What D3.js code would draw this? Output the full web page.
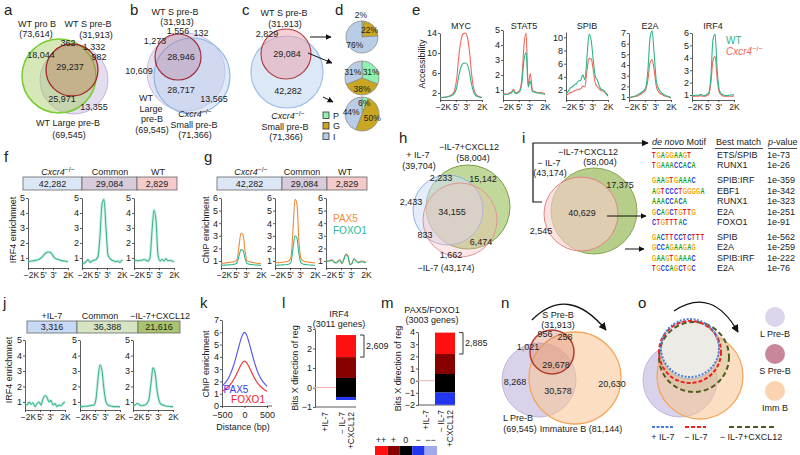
<!DOCTYPE html>
<html><head><meta charset="utf-8">
<script src="https://cdn.jsdelivr.net/npm/d3@7"></script>
<style>body{margin:0;background:#fff}</style>
</head><body>
<svg id="c" width="800" height="455"></svg>
<script>
// ---------------- DATA ----------------
// a: Venn (WT pro B / WT S pre-B / WT Large pre-B)
const vennASets = ["WT pro B","WT S pre-B","WT Large pre-B"];
const vennATotals = ["(73,614)","(31,913)","(69,545)"];
const vennACounts = ["18,044","362","1,332","982","29,237","25,971","13,355"];
// b
const vennBSets = ["WT S pre-B","WT Large pre-B","Small pre-B"];
const vennBTotals = ["(31,913)","(69,545)","(71,366)"];
const vennBCounts = ["1,556","132","1,273","28,946","10,609","28,717","13,565"];
// c
const vennCTotals = ["(31,913)","(71,366)"];
const vennCCounts = ["2,829","29,084","42,282"];
// d pies (P, G, I)
const pieCats = ["P","G","I"];
const pieTop = [2,22,76];
const pieMid = [31,38,31];
const pieBot = [6,50,44];
// e accessibility profiles
const profX = [-2000,-1800,-1600,-1400,-1200,-1000,-800,-600,-400,-200,0,200,400,600,800,1000,1200,1400,1600,1800,2000];
const profTickVals = [-2000,-500,500,2000];
const profTickLabels = ["\u22122K","5'","3'","2K"];
const eTitles = ["MYC","STAT5","SPIB","E2A","IRF4"];
const mycWT  = [1.0,1.1,1.15,1.2,1.3,1.4,1.6,2.0,3.2,5.5,7.2,7.9,8.0,7.7,6.2,3.8,2.2,1.5,1.3,1.2,1.1];
const mycKO  = [1.0,1.1,1.15,1.2,1.3,1.5,1.8,2.6,5.0,9.5,12.5,13.8,14.0,13.2,10.5,6.0,3.0,1.8,1.4,1.2,1.1];
const stat5WT = [0.65,0.7,0.7,0.75,0.8,0.95,0.75,0.8,0.9,1.5,3.0,3.5,1.2,1.6,0.9,0.85,0.8,0.8,0.75,0.75,0.7];
const stat5KO = [0.7,0.75,0.7,0.8,0.85,1.05,0.8,0.85,1.0,1.8,4.0,4.8,1.3,2.1,1.0,0.9,0.85,0.8,0.85,0.8,0.75];
const spibWT = [1.4,1.8,2.3,2.5,2.8,3.0,3.4,3.5,4.3,3.6,7.0,10.5,9.5,6.5,4.0,3.5,2.5,2.1,2.0,1.5,1.1];
const spibKO = [1.2,1.4,1.6,1.7,1.9,2.0,2.1,2.2,2.6,2.5,5.0,6.8,6.7,5.0,3.0,2.5,2.1,1.9,1.8,1.5,1.3];
const e2aWT = [0.95,1.0,1.05,1.1,1.2,1.3,1.45,1.6,1.9,3.5,6.5,7.2,5.0,2.5,1.8,1.5,1.3,1.2,1.1,1.05,0.95];
const e2aKO = [0.9,0.95,1.0,1.05,1.1,1.2,1.3,1.45,1.7,2.6,4.2,4.5,3.5,2.0,1.5,1.3,1.2,1.1,1.05,1.0,0.9];
const irf4WT = [1.0,0.95,1.0,0.95,1.05,1.0,0.95,1.05,1.2,2.5,5.5,5.9,3.0,1.4,1.1,1.0,0.95,0.95,1.0,1.0,1.05];
const irf4KO = [0.9,0.9,0.9,0.9,0.95,0.9,0.9,0.95,1.05,2.0,3.8,4.1,2.3,1.2,1.0,0.9,0.9,0.9,0.9,0.9,0.95];
// f IRF4 enrichment by peak class
const fClasses = ["Cxcr4","Common","WT"];
const fCounts = ["42,282","29,084","2,829"];
const fKO  = [0.75,0.78,0.8,0.82,0.85,0.88,0.95,1.05,1.2,1.35,1.4,1.38,1.25,1.05,0.95,0.9,0.85,0.82,0.8,0.78,0.75];
const fCom = [0.6,0.65,0.75,0.9,0.7,0.8,0.85,0.9,1.1,2.5,4.6,4.9,3.0,1.2,0.95,0.85,0.8,0.75,0.8,0.7,0.9];
const fWT  = [0.8,0.85,0.8,0.85,0.85,0.9,0.85,0.8,1.0,2.8,4.2,3.5,1.2,0.8,0.9,0.8,0.95,0.8,0.85,0.8,0.75];
// g PAX5 / FOXO1
const gPax5KO  = [0.8,0.82,0.84,0.86,0.88,0.9,0.92,0.95,1.1,2.2,3.2,3.1,1.8,1.0,0.95,0.9,0.88,0.85,0.82,0.8,0.78];
const gFoxo1KO = [0.65,0.66,0.67,0.68,0.69,0.7,0.72,0.75,0.85,1.4,1.9,1.85,1.2,0.8,0.75,0.72,0.7,0.68,0.67,0.66,0.65];
const gPax5Com  = [0.85,0.86,0.87,0.88,0.9,0.92,0.95,1.0,1.3,3.5,5.9,5.5,2.5,1.2,1.0,0.95,0.92,0.9,0.88,0.86,0.85];
const gFoxo1Com = [0.65,0.66,0.67,0.68,0.69,0.7,0.72,0.75,0.9,2.0,3.0,2.8,1.5,0.85,0.75,0.72,0.7,0.68,0.67,0.66,0.65];
const gPax5WT  = [0.95,1.0,1.05,1.1,0.95,0.85,1.0,1.1,0.8,1.2,1.55,1.4,0.75,0.8,1.2,1.0,0.9,0.95,1.0,0.95,0.9];
const gFoxo1WT = [0.9,1.0,1.0,1.05,0.9,0.85,0.95,1.05,0.8,1.15,1.5,1.35,0.7,0.8,1.15,1.0,0.85,0.9,0.95,0.9,0.85];
// h Venn
const vennHCounts = ["2,233","15,142","2,433","34,155","833","6,474","1,662"];
// i Venn + motifs
const vennICounts = ["17,375","40,629","2,545"];
const motifSeqs = ["TGAGGAAGT","TGAAACCACA","GAAGTGAAAC","AGTCCCTGGGGA","AAACCACA","GCAGCTGTTG","CTGTTTAC","GACTTCCTCTTT","GCCAGAAGAG","GAAGTGAAAC","TGCCAGCTGC"];
const motifMatch = ["ETS/SPIB","RUNX1","SPIB:IRF","EBF1","RUNX1","E2A","FOXO1","SPIB","E2A","SPIB:IRF","E2A"];
const motifP = ["1e-73","1e-26","1e-359","1e-342","1e-323","1e-251","1e-91","1e-562","1e-259","1e-222","1e-76"];
// j
const jClasses = ["+IL-7","Common","\u2212IL-7+CXCL12"];
const jCounts = ["3,316","36,388","21,616"];
const jIL7 = [0.9,0.8,1.0,0.85,0.95,0.7,0.9,1.0,0.8,1.2,1.4,1.3,1.0,1.1,0.8,0.9,0.7,0.8,0.75,0.9,1.0];
const jCom = [0.7,0.7,0.72,0.72,0.74,0.75,0.78,0.8,1.2,2.5,3.4,3.0,1.8,1.0,0.8,0.75,0.72,0.7,0.7,0.7,0.68];
const jCX  = [0.75,0.8,0.9,0.85,0.75,0.78,0.8,0.9,1.2,2.2,3.2,2.9,1.8,1.1,0.85,0.8,0.75,0.72,0.72,0.7,0.7];
// k
const kX = [-500,-450,-400,-350,-300,-250,-200,-150,-100,-50,0,50,100,150,200,250,300,350,400,450,500];
const kPax5 = [1.6,1.8,2.0,2.3,2.7,3.2,3.8,4.5,5.2,5.8,6.1,5.8,5.2,4.5,3.8,3.2,2.7,2.3,2.0,1.8,1.6];
const kFoxo1 = [1.2,1.3,1.45,1.6,1.8,2.1,2.4,2.8,3.2,3.55,3.7,3.55,3.2,2.8,2.4,2.1,1.8,1.6,1.45,1.3,1.2];
// l, m  stacked bits (order ++, +, 0, -, --), top of stack
const bitCats = ["++","+","0","\u2212","\u2212\u2212"];
const irf4Bits = [1.13,1.07,0.98,0.15,0];
const irf4Top = 2.69;
const pfBits = [1.76,1.64,1.53,1.0,0];
const pfTop = 3.95;
// n
const vennNCounts = ["956","258","1,021","29,678","8,268","30,578","20,630"];

// ---------------- HELPERS ----------------
const FONT = "Arial, 'Liberation Sans', Helvetica, sans-serif";
const svg = d3.select("#c").attr("font-family", FONT);
const defs = svg.append("defs");
defs.append("marker").attr("id","ah").attr("viewBox","0 0 10 10").attr("refX",9).attr("refY",5)
  .attr("markerWidth",6).attr("markerHeight",6).attr("orient","auto")
  .append("path").attr("d","M0,0L10,5L0,10z").attr("fill","#111");

function T(x,y,s,o={}){
  const t = svg.append("text").attr("x",x).attr("y",y).attr("dy","0.35em")
    .attr("font-size",o.size||9).attr("text-anchor",o.anchor||"middle").attr("fill",o.fill||"#222").text(s);
  if(o.italic) t.attr("font-style","italic");
  if(o.rot!==undefined) t.attr("transform",`rotate(${o.rot},${x},${y})`);
  return t;
}
function CX(x,y,o={}){
  const size=o.size||9;
  const t = svg.append("text").attr("x",x).attr("y",y).attr("dy","0.35em")
    .attr("font-size",size).attr("text-anchor",o.anchor||"middle").attr("fill",o.fill||"#222");
  t.append("tspan").attr("font-style","italic").text("Cxcr4");
  t.append("tspan").attr("font-size",size*0.75).attr("dy",-size*0.4).text("\u2212/\u2212");
  return t;
}
function C(cx,cy,r,fill,stroke,sw,dash){
  const c = svg.append("circle").attr("cx",cx).attr("cy",cy).attr("r",r)
    .attr("fill",fill).attr("stroke",stroke||"none").attr("stroke-width",sw||1);
  if(dash) c.attr("stroke-dasharray",dash);
  return c;
}
function L(s){ T(s[1],s[2],s[0],{size:15,anchor:"start"}); }
function arrow(x1,y1,x2,y2,w){
  svg.append("line").attr("x1",x1).attr("y1",y1).attr("x2",x2).attr("y2",y2)
    .attr("stroke","#111").attr("stroke-width",w||1).attr("marker-end","url(#ah)");
}
function styleAxis(a,fs){
  a.attr("font-family",FONT).attr("font-size",fs||8.5);
  a.selectAll("path,line").attr("stroke","#333").attr("stroke-width",0.8);
  a.selectAll("text").attr("fill","#222");
}
function profile(o){
  const x = d3.scaleLinear().domain([-2000,2000]).range([o.x0,o.x0+o.w]);
  const y = d3.scaleLinear().domain(o.domain).range([o.yBot,o.yTop]);
  const g = svg.append("g");
  const ya = g.append("g").attr("transform",`translate(${o.x0},0)`)
    .call(d3.axisLeft(y).tickValues(o.ticks).tickSize(2).tickSizeOuter(0).tickPadding(1).tickFormat(d3.format("d")));
  const xa = g.append("g").attr("transform",`translate(0,${o.yBot})`)
    .call(d3.axisBottom(x).tickValues(profTickVals).tickFormat((d,i)=>profTickLabels[i]).tickSize(2).tickSizeOuter(0).tickPadding(2));
  styleAxis(ya,9); styleAxis(xa,8.5);
  xa.selectAll(".tick text").filter((d,i)=>i===0).attr("dx",3);
  const line = d3.line().x((d,i)=>x(profX[i])).y(d=>y(d)).curve(d3.curveMonotoneX);
  o.series.forEach(s=>{
    if(o.band) g.append("path").attr("d",line(s.v)).attr("fill","none").attr("stroke",s.c).attr("stroke-width",3).attr("opacity",0.22);
    g.append("path").attr("d",line(s.v)).attr("fill","none").attr("stroke",s.c).attr("stroke-width",1.1);
  });
  return g;
}
function header(y,h,xs,cols,counts){
  for(let i=0;i<counts.length;i++){
    svg.append("rect").attr("x",xs[i]).attr("y",y).attr("width",xs[i+1]-xs[i]).attr("height",h)
      .attr("fill",cols[i]).attr("stroke","#666").attr("stroke-width",0.8);
    T((xs[i]+xs[i+1])/2,y+h/2,counts[i],{size:9});
  }
}

// ---------------- PANEL a ----------------
L(["a",4,10]);
C(74,80,34,"rgba(195,180,220,0.45)","#c4b4dc",1);
C(59,76,37,"rgba(165,205,95,0.45)","#78cc34",1.6);
C(72,70,26,"rgba(190,105,70,0.32)","#a02828",1.3);
T(37,24,vennASets[0]); T(36,34,vennATotals[0]);
T(88,24,vennASets[1]); T(96,35,vennATotals[1]);
const aPos=[[41,55],[68,43],[94,47],[99,57],[70,67],[62,99],[94,107]];
vennACounts.forEach((s,i)=>T(aPos[i][0],aPos[i][1],s));
T(68,123,vennASets[2]); T(69,135,vennATotals[2]);

// ---------------- PANEL b ----------------
L(["b",130,10]);
C(186,72,39,"rgba(205,195,228,0.5)","#c8badf",1);
C(192,76,38,"rgba(185,208,240,0.45)","#8db5e8",1.2);
C(178,57,23,"rgba(175,110,140,0.3)","#a03040",1.2);
T(175,12,vennBSets[0]); T(177,22,vennBTotals[0]);
const bPos=[[178,31],[201,33],[155,41],[181,57],[139,71],[181,90],[214,99]];
vennBCounts.forEach((s,i)=>T(bPos[i][0],bPos[i][1],s));
T(146,98,"WT"); T(151,109,"Large"); T(152,119,"pre-B"); T(152,130,vennBTotals[1]);
CX(195,114); T(194,125,vennBSets[2]); T(195,135,vennBTotals[2]);

// ---------------- PANEL c ----------------
L(["c",242,10]);
C(287,72,36,"#dde8f6","#9ec0ea",1.2);
C(286,54,25,"rgba(235,150,160,0.45)","#b04048",1.2);
T(284,13,"WT S pre-B"); T(285,23.5,vennCTotals[0]);
T(267,33.5,vennCCounts[0]); T(287,54,vennCCounts[1]); T(288,91,vennCCounts[2]);
CX(288,116); T(285,127,"Small pre-B"); T(286,137,vennCTotals[1]);
arrow(310,37,331,37); arrow(308,53,332,63); arrow(323,97,333,102);

// ---------------- PANEL d ----------------
L(["d",335,10]);
const pieCol = ["#8ff0b0","#c9a722","#b9cde6"];
const pie = d3.pie().sort(null).value(d=>d);
function drawPie(vals,cx,cy,r){
  const arcs = pie(vals);
  const arc = d3.arc().innerRadius(0).outerRadius(r);
  const g = svg.append("g").attr("transform",`translate(${cx},${cy})`);
  g.selectAll("path").data(arcs).join("path").attr("d",arc)
    .attr("fill",(d,i)=>pieCol[i]).attr("stroke","#8a8a8a").attr("stroke-width",0.8);
  const lab = d3.arc().innerRadius(0).outerRadius(r*1.3);
  arcs.forEach((a,i)=>{
    let [lx,ly] = lab.centroid(a);
    if(a.data<5){ lx=-1; ly=-r-6; }
    T(cx+lx,cy+ly,a.data+"%",{size:8.5});
  });
}
drawPie(pieTop,362,37,16);
drawPie(pieMid,362,78,17);
drawPie(pieBot,362,114,17);
pieCats.forEach((c,i)=>{
  svg.append("rect").attr("x",323).attr("y",112+i*10.5).attr("width",6).attr("height",6.5)
    .attr("fill",pieCol[i]).attr("stroke","#333").attr("stroke-width",0.8);
  T(333,115.5+i*10.5,c,{size:9,anchor:"start"});
});

// ---------------- PANEL e ----------------
L(["e",412,10]);
const WTc="#2fb487", KOc="#f2675c";
const eX0=[440,503,566,629,692];
const eCfg=[
 {domain:[0.6,14],yTop:33,ticks:[2,6,10,14],s:[mycWT,mycKO]},
 {domain:[0.33,5],yTop:30,ticks:[1,2,3,4,5],s:[stat5WT,stat5KO]},
 {domain:[0.5,10.8],yTop:32,ticks:[2,4,6,8,10],s:[spibWT,spibKO]},
 {domain:[0.72,7],yTop:33,ticks:[1,2,3,4,5,6,7],s:[e2aWT,e2aKO]},
 {domain:[0.6,6],yTop:33,ticks:[1,2,3,4,5,6],s:[irf4WT,irf4KO]}];
eCfg.forEach((c,i)=>{
  profile({x0:eX0[i],w:42,yTop:c.yTop,yBot:100,domain:c.domain,ticks:c.ticks,
    series:[{v:c.s[1],c:KOc},{v:c.s[0],c:WTc}]});
  T(eX0[i]+21,26,eTitles[i],{size:9});
});
T(422,64,"Accessibility",{size:9,rot:-90});
T(726,40,"WT",{size:10,anchor:"start",fill:WTc});
CX(726,51,{size:10,anchor:"start",fill:KOc});

// ---------------- PANEL f ----------------
L(["f",4,157]);
header(177,13,[23,82,137,177],["#dce7f5","#d8cbdb","#f4caca"],fCounts);
CX(58,172); T(110,172,"Common"); T(158,172,"WT");
const fX0=[28,82,134];
[fKO,fCom,fWT].forEach((v,i)=>profile({x0:fX0[i],w:40,yTop:198,yBot:268,domain:[0.33,5],ticks:[1,2,3,4,5],series:[{v:v,c:"#3cb88c"}],band:true}));
T(13,230,"IRF4 enrichmnet",{size:9,rot:-90});

// ---------------- PANEL g ----------------
L(["g",204,157]);
header(177,13,[217,282,327,367],["#dce7f5","#d8cbdb","#f4caca"],fCounts);
CX(251,172); T(302,172,"Common"); T(345,172,"WT");
const gX0=[221,275,326];
const PAXc="#f08a3a", FOXc="#2fb890";
[[gPax5KO,gFoxo1KO],[gPax5Com,gFoxo1Com],[gPax5WT,gFoxo1WT]].forEach((p,i)=>
  profile({x0:gX0[i],w:40,yTop:198,yBot:268,domain:[0.44,6],ticks:[1,2,3,4,5,6],series:[{v:p[0],c:PAXc},{v:p[1],c:FOXc}]}));
T(206,230,"ChIP enrichment",{size:9,rot:-90});
T(333,218,"PAX5",{size:10,anchor:"start",fill:PAXc});
T(333,230,"FOXO1",{size:10,anchor:"start",fill:FOXc});

// ---------------- PANEL h ----------------
L(["h",399,138]);
C(468,207,42,"rgba(150,190,85,0.6)","#7d9c44",1);
C(448,210,35,"rgba(205,222,250,0.55)","#8fb0e0",1);
C(460,220,37,"rgba(248,190,190,0.35)","#e49494",1);
T(418,155,"+ IL-7"); T(419,166,"(39,704)");
T(469,147,"\u2212IL-7+CXCL12"); T(473,158,"(58,004)");
const hPos=[[441,178],[483,179],[411,202],[452,212],[425,235],[481,242],[451,255]];
vennHCounts.forEach((s,i)=>T(hPos[i][0],hPos[i][1],s));
T(446,268,"\u2212IL-7 (43,174)");

// ---------------- PANEL i ----------------
L(["i",522,138]);
svg.append("path").attr("d","M542,202H533V143H648").attr("fill","none").attr("stroke","#111").attr("stroke-width",1.2).attr("marker-end","url(#ah)");
C(594,211,43,"#b7cd8a","#8aa850",1);
C(581,214,37,"rgba(250,205,205,0.6)","#e08484",1);
T(549,163,"\u2212 IL-7"); T(550,173,"(43,174)");
T(588,152,"\u2212IL-7+CXCL12"); T(600,161.5,"(58,004)");
T(620,185,vennICounts[0]); T(582,213,vennICounts[1]); T(541,231,vennICounts[2]);
arrow(607,216,646,216); arrow(625,249,644,249);
const hdr = svg.append("text").attr("x",652).attr("y",145).attr("font-size",9).attr("fill","#222");
hdr.append("tspan").attr("font-style","italic").text("de novo");
hdr.append("tspan").text(" Motif");
T(716,142,"Best  match",{anchor:"start"});
const ph = svg.append("text").attr("x",768).attr("y",145).attr("font-size",9).attr("fill","#222");
ph.append("tspan").attr("font-style","italic").text("p");
ph.append("tspan").text("-value");
[[652,703],[715,763],[768,797]].forEach(u=>svg.append("line").attr("x1",u[0]).attr("x2",u[1]).attr("y1",148.5).attr("y2",148.5).attr("stroke","#222").attr("stroke-width",0.8));
const motifY=[155,165,180,191,201,212,222,237,247,258,268];
const baseCol={A:"#10a010",C:"#1830e0",G:"#f5a800",T:"#e01818"};
motifSeqs.forEach((seq,r)=>{
  const xs = d3.scaleBand().domain(d3.range(seq.length)).range([652,652+seq.length*4.4]);
  seq.split("").forEach((ch,k)=>{
    svg.append("text").attr("transform",`translate(${xs(k)},${motifY[r]+3.4}) scale(0.6,1)`)
      .attr("font-size",9.5).attr("font-weight","bold").attr("fill",baseCol[ch]).text(ch);
  });
  T(717,motifY[r],motifMatch[r],{anchor:"start"});
  T(767,motifY[r],motifP[r],{anchor:"start"});
});

// ---------------- PANEL j ----------------
L(["j",3,303]);
header(321,12,[27,77,138,180],["#c7d9f5","#d6e4c4","#a9c46e"],jCounts);
T(52,316,jClasses[0]); T(100,316,jClasses[1]); T(160,316,jClasses[2]);
const jX0=[25,80,133];
[jIL7,jCom,jCX].forEach((v,i)=>profile({x0:jX0[i],w:40,yTop:340,yBot:410,domain:[0.48,5],ticks:[1,2,3,4,5],series:[{v:v,c:"#3cb88c"}],band:true}));
T(9,370,"IRF4 enrichmnet",{size:9,rot:-90});

// ---------------- PANEL k ----------------
L(["k",200,303]);
{
  const x = d3.scaleLinear().domain([-500,500]).range([222,267]);
  const y = d3.scaleLinear().domain([0,7]).range([406,320]);
  const ya = svg.append("g").attr("transform","translate(222,0)").call(d3.axisLeft(y).ticks(7).tickSize(2).tickSizeOuter(0).tickPadding(1));
  const xa = svg.append("g").attr("transform","translate(0,406)").call(d3.axisBottom(x).tickValues([-500,0,500]).tickFormat(d=>d<0?"\u2212"+(-d):d).tickSize(2).tickSizeOuter(0).tickPadding(4));
  styleAxis(ya,9); styleAxis(xa,9);
  svg.append("line").attr("x1",267).attr("x2",272).attr("y1",406).attr("y2",406).attr("stroke","#333").attr("stroke-width",0.8);
  const line = d3.line().x((d,i)=>x(kX[i])).y(d=>y(d)).curve(d3.curveBasis);
  svg.append("path").attr("d",line(kPax5)).attr("fill","none").attr("stroke","#5a5af0").attr("stroke-width",1.2);
  svg.append("path").attr("d",line(kFoxo1)).attr("fill","none").attr("stroke","#f03a3a").attr("stroke-width",1.2);
  T(236,389,"PAX5",{size:10,fill:"#3a3af0"});
  T(248,399,"FOXO1",{size:10,fill:"#f02020"});
  T(206,364,"ChIP enrichment",{size:9,rot:-90});
  T(243,427,"Distance (bp)",{size:9});
}

// ---------------- PANELS l, m ----------------
const bitCol = ["#ff1010","#860000","#000000","#2236f0","#a0a8ee"];
function bits(o){
  const y = d3.scaleLinear().domain(o.domain).range([o.yBot,o.yTop]);
  const ya = svg.append("g").attr("transform",`translate(${o.ax},0)`).call(d3.axisLeft(y).ticks(o.domain[1]-o.domain[0]).tickSize(2).tickSizeOuter(0).tickPadding(1).tickFormat(d=>d<0?"\u2212"+(-d):d));
  styleAxis(ya,9);
  svg.append("line").attr("x1",o.ax).attr("x2",o.right).attr("y1",o.yBot).attr("y2",o.yBot).attr("stroke","#333").attr("stroke-width",0.8);
  svg.append("line").attr("x1",o.ax).attr("x2",o.bx).attr("y1",y(0)).attr("y2",y(0)).attr("stroke","#f2b4b4").attr("stroke-width",1);
  let top=o.top;
  o.vals.forEach((v,i)=>{
    if(v<=0) return;
    svg.append("rect").attr("x",o.bx).attr("width",o.right-o.bx).attr("y",y(top)).attr("height",y(top-v)-y(top)).attr("fill",bitCol[i]);
    top-=v;
  });
  const b1=y(o.top), b2=y(o.top-o.vals[0]);
  svg.append("path").attr("d",`M${o.right+4},${b1}H${o.right+8}V${b2}H${o.right+4}`).attr("fill","none").attr("stroke","#222").attr("stroke-width",0.9);
  T(o.right+10,(b1+b2)/2,o.bracket,{anchor:"start"});
  T(o.ax-20,(o.yTop+o.yBot)/2,"Bits X direction of reg",{rot:-90});
  T((o.ax+o.bx)/2,o.yBot+5,"+IL-7",{rot:-90,anchor:"end",size:8.5});
  T(o.bx+6,o.yBot+5,"\u2212 IL-7",{rot:-90,anchor:"end",size:8.5});
  T(o.bx+15,o.yBot+5,"+CXCL12",{rot:-90,anchor:"end",size:8.5});
  T(o.tx,o.ty,o.title);
  T(o.tx,o.ty+9.5,o.sub);
}
L(["l",282,303]);
bits({ax:315,bx:336,right:356,yTop:329,yBot:407,domain:[-1,3],vals:irf4Bits,top:irf4Top,bracket:"2,609",title:"IRF4",sub:"(3011 genes)",tx:339,ty:314});
L(["m",381,303]);
bits({ax:418,bx:435,right:455,yTop:332,yBot:405,domain:[-2,4],vals:pfBits,top:pfTop,bracket:"2,885",title:"PAX5/FOXO1",sub:"(3003 genes)",tx:432,ty:310});
bitCats.forEach((c,i)=>{
  svg.append("rect").attr("x",375+i*12.4).attr("y",446).attr("width",12.4).attr("height",9).attr("fill",bitCol[i]);
  T(381+i*12.4,440,c,{size:9});
});

// ---------------- PANEL n ----------------
L(["n",501,303]);
C(539,380,37,"rgba(212,202,232,0.85)","#c2b3dd",1);
C(575,378,46,"rgba(250,196,146,0.55)","#f5a65c",1.3);
C(552,352,22,"rgba(215,130,110,0.35)","#b04030",1.5);
svg.append("path").attr("d","M532,320 Q568,284 606,330").attr("fill","none").attr("stroke","#111").attr("stroke-width",1.3).attr("marker-end","url(#ah)");
T(558,315,"S Pre-B"); T(558,325,"(31,913)");
const nPos=[[545,334],[565,337],[528,347],[556,365],[515,382],[558,391],[612,384]];
vennNCounts.forEach((s,i)=>T(nPos[i][0],nPos[i][1],s));
T(518,418,"L Pre-B"); T(520,429,"(69,545)");
T(581,429,"Immature B (81,144)");

// ---------------- PANEL o ----------------
L(["o",638,303]);
C(680,380,37,"rgba(212,202,232,0.85)","#c2b3dd",1);
C(700,376,43,"rgba(250,196,146,0.55)","#f5a65c",1.3);
C(694,357,35,"rgba(200,190,140,0.35)","none");
C(690,350,29,"#ecebe6","#b9b0b0",1);
C(694,357,35,"none","#4a5e22",2,"5,3");
C(690,352,31,"none","#ee2020",2,"4,2");
C(690,348,29,"none","#5080d8",2,"2,1.5");
svg.append("path").attr("d","M674,311 Q712,286 738,332").attr("fill","none").attr("stroke","#111").attr("stroke-width",1.3).attr("marker-end","url(#ah)");
const legC=["#ddd5ea","#c9879c","#fbd3b0"], legT=["L Pre-B","S Pre-B","Imm B"];
legC.forEach((c,i)=>{ C(775,317+i*37,10,c,"none"); T(775,334+i*37,legT[i]); });
[[652,673,"#4a7cd0","3,1.5","+ IL-7",663],[685,706,"#ee2020","4,2","\u2212 IL-7",696],[729,774,"#4a5e22","5,3","\u2212 IL-7+CXCL12",751]].forEach(d=>{
  svg.append("line").attr("x1",d[0]).attr("x2",d[1]).attr("y1",427).attr("y2",427).attr("stroke",d[2]).attr("stroke-width",2).attr("stroke-dasharray",d[3]);
  T(d[5],437,d[4]);
});
</script>
</body></html>
